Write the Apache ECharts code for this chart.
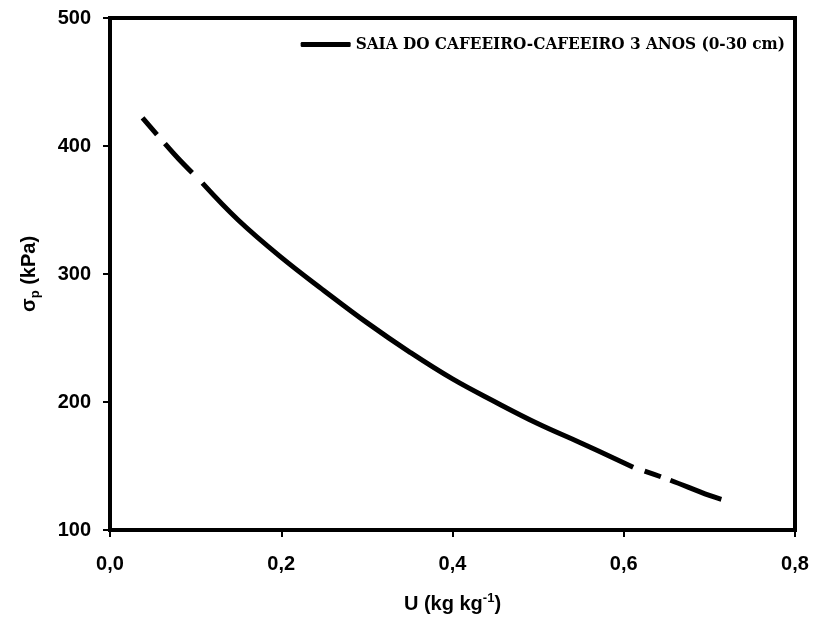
<!DOCTYPE html>
<html>
<head>
<meta charset="utf-8">
<script src="https://cdn.jsdelivr.net/npm/echarts@6/dist/echarts.min.js"></script>
<style>
  html, body { margin: 0; padding: 0; background: #fff; }
  #chart { width: 814px; height: 621px; }
</style>
</head>
<body>
<div id="chart"></div>
<script>
// values (U in kg/kg, sigma_p in kPa)
const uValues = [0.038, 0.06, 0.08, 0.108, 0.15, 0.2, 0.25, 0.3, 0.35, 0.4, 0.45, 0.5, 0.55, 0.611, 0.65, 0.7, 0.714]
const sigmaValues = [422, 405, 390, 371, 342, 313, 287, 262, 239, 218, 200, 183, 168, 149, 140, 127, 124]
const xTicks = [0, 0.2, 0.4, 0.6, 0.8]
const yTicks = [100, 200, 300, 400, 500]
const seriesName = 'SAIA DO CAFEEIRO-CAFEEIRO 3 ANOS (0-30 cm)'

// the curve is dashed at both ends and solid in the middle
const solidFrom = 3
const solidTo = 13

const points = uValues.map((u, i) => [u, sigmaValues[i]])

const chart = echarts.init(document.getElementById('chart'))
const lineBase = {
  type: 'line',
  symbol: 'none',
  smooth: 0.4,
  silent: true,
  color: '#000'
}
const labelFont = {fontFamily: 'Liberation Sans', fontWeight: 'bold', fontSize: 20, color: '#000'}
const subFont = {fontFamily: 'Liberation Sans', fontWeight: 'bold', fontSize: 13, color: '#000'}

chart.setOption({
  animation: false,
  grid: {
    left: 110, right: 19, top: 18, bottom: 91,
    outerBoundsMode: 'none',
    show: true, borderColor: '#000', borderWidth: 4
  },
  legend: {
    data: [{name: seriesName}],
    top: 31, right: 24,
    icon: 'roundRect',
    itemWidth: 50, itemHeight: 5,
    itemGap: 8,
    textStyle: {fontFamily: 'DejaVu Serif Condensed', fontWeight: 'bold', fontSize: 17, color: '#000'}
  },
  xAxis: {
    type: 'value',
    min: 0, max: 0.8, interval: 0.2,
    splitLine: {show: false},
    axisLine: {lineStyle: {color: '#000', width: 4}},
    axisTick: {length: 7, lineStyle: {color: '#000', width: 2}},
    axisLabel: Object.assign({
      margin: 24,
      formatter: v => v.toFixed(1).replace('.', ',')
    }, labelFont),
    name: '{n|U (kg kg}{s|-1}{n|)}',
    nameLocation: 'middle',
    nameGap: 62,
    nameTextStyle: {
      rich: {
        n: labelFont,
        s: Object.assign({verticalAlign: 'top', padding: [0, 0, 12, 0]}, subFont)
      }
    }
  },
  yAxis: {
    type: 'value',
    min: 100, max: 500, interval: 100,
    splitLine: {show: false},
    axisLine: {lineStyle: {color: '#000', width: 4}},
    axisTick: {length: 7, lineStyle: {color: '#000', width: 2}},
    axisLabel: Object.assign({margin: 19}, labelFont),
    name: '{n|σ}{s|p}{n| (kPa)}',
    nameLocation: 'middle',
    nameGap: 68,
    nameTextStyle: {
      rich: {
        n: labelFont,
        s: Object.assign({verticalAlign: 'bottom', padding: [12, 0, 0, 0]}, subFont)
      }
    }
  },
  series: [
    Object.assign({}, lineBase, {
      name: seriesName,
      data: points.slice(solidFrom, solidTo + 1),
      lineStyle: {color: '#000', width: 5}
    }),
    Object.assign({}, lineBase, {
      name: 'start',
      data: points.slice(0, solidFrom + 1),
      lineStyle: {color: '#000', width: 5, type: [22, 12, 40, 30]}
    }),
    Object.assign({}, lineBase, {
      name: 'end',
      data: points.slice(solidTo),
      lineStyle: {color: '#000', width: 5, type: [0.1, 12, 17, 10, 300, 1]}
    })
  ]
})
</script>
</body>
</html>
